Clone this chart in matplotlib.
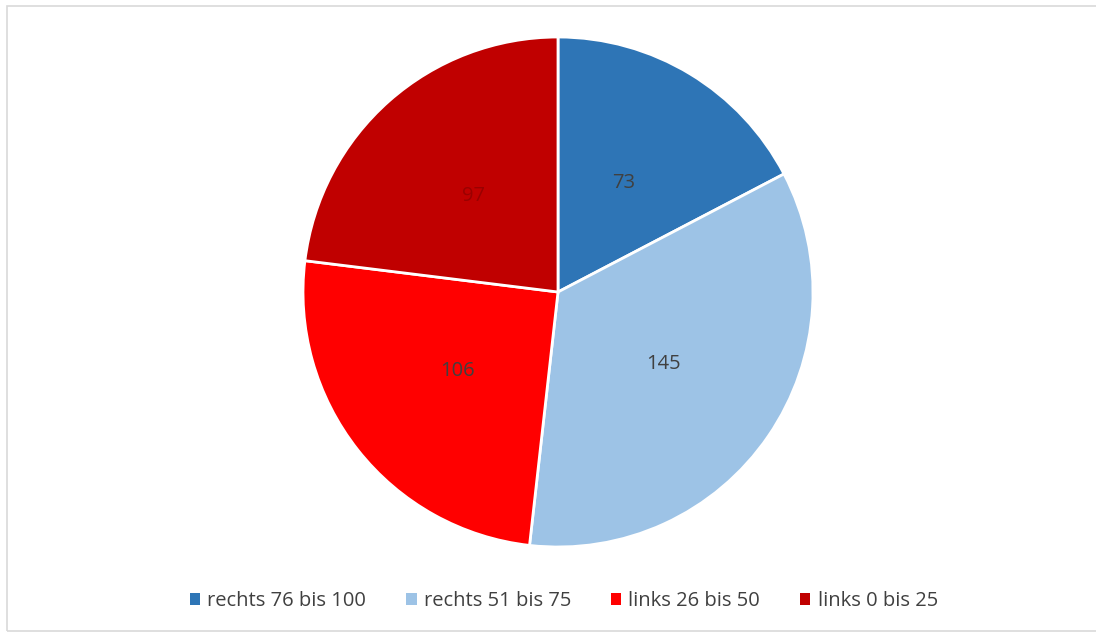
import matplotlib
matplotlib.use("Agg")
import matplotlib.pyplot as plt
from matplotlib.patches import Rectangle, Patch
import numpy as np

categories = ["rechts 76 bis 100", "rechts 51 bis 75", "links 26 bis 50", "links 0 bis 25"]
values = [73, 145, 106, 97]
colors = ["#2E75B6", "#9DC3E6", "#FF0000", "#C00000"]
label_colors = ["#404040", "#404040", "#404040", "#9a0000"]

W, H = 1096, 633
fig = plt.figure(figsize=(W / 100, H / 100), dpi=100)
fig.patch.set_facecolor("white")

# outer border
fig.patches.append(Rectangle((7 / W, 2 / H), 1.2, (627 - 2) / H, transform=fig.transFigure,
                             fill=False, edgecolor="#d9d9d9", linewidth=1.2))

cx, cy, r = 558, 292, 255
ax = fig.add_axes([(cx - r) / W, (H - cy - r) / H, 2 * r / W, 2 * r / H])
wedges, _ = ax.pie(values, colors=colors, startangle=90, counterclock=False,
                   wedgeprops=dict(edgecolor="white", linewidth=2))
total = sum(values)
cum = 0
for v, c in zip(values, label_colors):
    mid = 90 - (cum + v / 2) / total * 360
    cum += v
    ax.text(0.5 * np.cos(np.radians(mid)), 0.5 * np.sin(np.radians(mid)), str(v),
            ha="center", va="center", fontsize=14.5, color=c, family="Open Sans")
ax.set_xlim(-1, 1)
ax.set_ylim(-1, 1)
ax.set_aspect("equal")
ax.axis("off")

handles = [Patch(facecolor=c, edgecolor="none") for c in colors]
fig.legend(handles, categories, loc="center", bbox_to_anchor=(564 / W, (H - 601) / H), ncol=4,
           frameon=False, prop=dict(family="Open Sans", size=14.5), labelcolor="#404040",
           handlelength=0.5, handleheight=0.5, handletextpad=0.35, columnspacing=2.0)

fig.savefig("out.png", dpi=100)
